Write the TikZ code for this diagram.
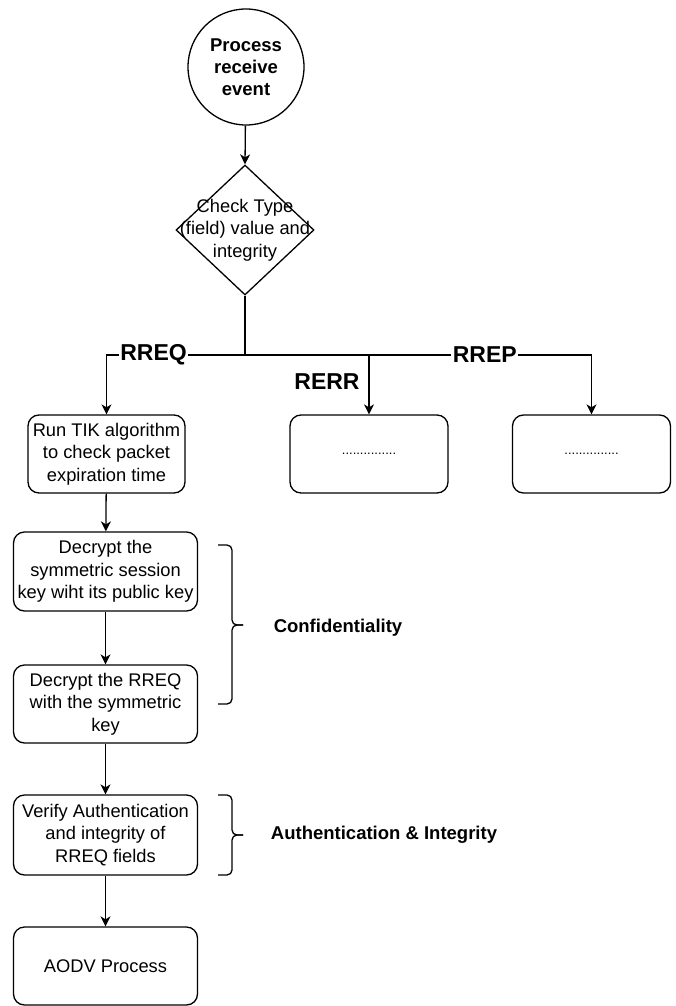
\documentclass[tikz,border=0pt]{standalone}
\usepackage{fontspec}
\setmainfont{Liberation Sans}
\usetikzlibrary{shapes.geometric,arrows.meta}
\newcommand\fnorm{\fontsize{18.3}{22.5}\selectfont}
\newcommand\fbold{\fontsize{18.5}{22}\selectfont\bfseries}
\newcommand\flab{\fontsize{23}{26}\selectfont\bfseries}
\newcommand\fdots{\fontsize{13}{15}\selectfont}
\tikzset{
  every path/.style={line width=1.3pt},
  arr/.style={-{Stealth[length=10pt,width=10pt,inset=3pt]}},
  stepbox/.style={draw, rounded corners=11pt, align=center, inner sep=0pt, font=\fnorm},
  lbl/.style={fill=white, inner sep=1.5pt, font=\flab},
  grp/.style={font=\fbold, inner sep=0pt},
  bracepath/.style={rounded corners=5pt},
}
\begin{document}
\begin{tikzpicture}[x=1pt,y=-1pt]
\useasboundingbox (0,0) rectangle (676,1006);
\node[circle, draw, minimum size=116pt, inner sep=0pt, align=center, font=\fbold] (start) at (246,67) {Process\\receive\\event};
\node[diamond, draw, minimum width=138pt, minimum height=130pt, inner sep=0pt] (dia) at (245,230) {};
\node[align=center, font=\fnorm, inner sep=0pt] (diatext) at (dia.center) {Check Type\\(field) value and\\integrity};
\coordinate (jn) at (245,355);
\node[stepbox, minimum width=157pt, minimum height=78pt] (tik) at (106.5,454) {Run TIK algorithm\\to check packet\\expiration time};
\node[stepbox, minimum width=158pt, minimum height=78pt, font=\fdots] (rerr) at (369,454) {...............};
\node[stepbox, minimum width=158pt, minimum height=78pt, font=\fdots] (rrep) at (591.5,454) {...............};
\node[stepbox, minimum width=184pt, minimum height=79pt] (dec1) at (105.5,571.5) {Decrypt the\\symmetric session\\key wiht its public key};
\node[stepbox, minimum width=184pt, minimum height=78pt] (dec2) at (105.5,704) {Decrypt the RREQ\\with the symmetric\\key};
\node[stepbox, minimum width=184pt, minimum height=80pt] (ver) at (105.5,835) {Verify Authentication\\and integrity of\\RREQ fields};
\node[stepbox, minimum width=184pt, minimum height=78pt] (aodv) at (105.5,966) {AODV Process};
\draw[arr] (start) -- (dia.north);
\draw (dia.south) -- (jn);
\draw[arr] (jn) -| node[lbl, pos=0.33] (lreq) {RREQ} (tik.north);
\draw[arr] (jn) -| (rerr.north);
\draw[arr] (jn) -| node[lbl, pos=0.346] (lrep) {RREP} (rrep.north);
\node[font=\flab, inner sep=0pt] (lerr) at (327,382) {RERR};
\draw[arr] (tik) -- (dec1);
\draw[arr] (dec1) -- (dec2);
\draw[arr] (dec2) -- (ver);
\draw[arr] (ver) -- (aodv);
% braces
\coordinate (b1t) at (218,545);
\coordinate (b1b) at (218,704);
\coordinate (b1m) at (243,625);
\draw[bracepath] (b1t) -- (232,545) -- (232,625) -- (b1m);
\draw[bracepath] (b1b) -- (232,704) -- (232,625) -- (b1m);
\coordinate (b2t) at (218,795);
\coordinate (b2b) at (218,875);
\coordinate (b2m) at (243,835);
\draw[bracepath] (b2t) -- (232,795) -- (232,835) -- (b2m);
\draw[bracepath] (b2b) -- (232,875) -- (232,835) -- (b2m);
\node[grp] (conf) at (338,628) {Confidentiality};
\node[grp] (auth) at (384,835) {Authentication \& Integrity};
\end{tikzpicture}
\end{document}
